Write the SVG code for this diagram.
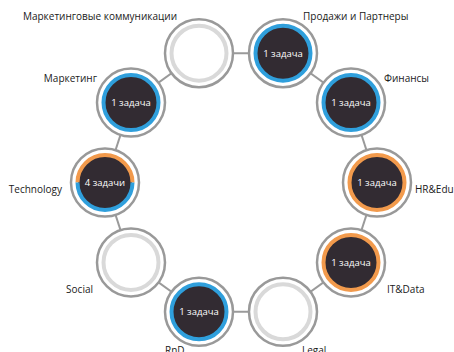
<svg xmlns="http://www.w3.org/2000/svg" width="454" height="352" viewBox="0 0 454 352">
<style>
.conn line{stroke:#9a9a9a;stroke-width:2}
.outer{fill:#fff;stroke:#999;stroke-width:2.5}
.ring-empty{fill:#fff;stroke:#d9d9d9;stroke-width:4}
.ring-blue{fill:none;stroke:#2f9fdc;stroke-width:4}
.ring-orange{fill:none;stroke:#f29a4c;stroke-width:4}
.core{fill:#322b32}
.cnt{font-family:"Open Sans","Liberation Sans",sans-serif;font-size:9.5px;fill:#fff;text-anchor:middle}
.lbl{font-family:"Open Sans","Liberation Sans",sans-serif;font-size:10px;fill:#1a1a1a}
</style>
<rect width="454" height="352" fill="#fff"/>
<g id="connectors" class="conn">
<line x1="199" y1="53.2" x2="283" y2="53.2"/>
<line x1="283" y1="53.2" x2="351" y2="102.6"/>
<line x1="351" y1="102.6" x2="377" y2="182.5"/>
<line x1="377" y1="182.5" x2="351" y2="262.4"/>
<line x1="351" y1="262.4" x2="283" y2="311.8"/>
<line x1="283" y1="311.8" x2="199" y2="311.8"/>
<line x1="199" y1="311.8" x2="131" y2="262.4"/>
<line x1="131" y1="262.4" x2="105" y2="182.5"/>
<line x1="105" y1="182.5" x2="131" y2="102.6"/>
<line x1="131" y1="102.6" x2="199" y2="53.2"/>
</g>
<g id="node-marketing-comm">
<circle class="outer" cx="199" cy="53.2" r="34"/>
<circle class="ring-empty" cx="199" cy="53.2" r="27.5"/>
<text class="lbl" x="177" y="19.5" text-anchor="end">Маркетинговые коммуникации</text>
</g>
<g id="node-sales">
<circle class="outer" cx="283" cy="53.2" r="34"/>
<circle class="core" cx="283" cy="53.2" r="27"/>
<circle class="ring-blue" cx="283" cy="53.2" r="27.5"/>
<text class="cnt" x="283" y="56.5">1 задача</text>
<text class="lbl" x="303" y="19.5">Продажи и Партнеры</text>
</g>
<g id="node-finance">
<circle class="outer" cx="351" cy="102.6" r="34"/>
<circle class="core" cx="351" cy="102.6" r="27"/>
<circle class="ring-blue" cx="351" cy="102.6" r="27.5"/>
<text class="cnt" x="351" y="106">1 задача</text>
<text class="lbl" x="384" y="82">Финансы</text>
</g>
<g id="node-hr">
<circle class="outer" cx="377" cy="182.5" r="34"/>
<circle class="core" cx="377" cy="182.5" r="27"/>
<circle class="ring-orange" cx="377" cy="182.5" r="27.5"/>
<text class="cnt" x="377" y="186">1 задача</text>
<text class="lbl" x="415" y="193">HR&amp;Edu</text>
</g>
<g id="node-it">
<circle class="outer" cx="351" cy="262.4" r="34"/>
<circle class="core" cx="351" cy="262.4" r="27"/>
<circle class="ring-orange" cx="351" cy="262.4" r="27.5"/>
<text class="cnt" x="351" y="266">1 задача</text>
<text class="lbl" x="387" y="293">IT&amp;Data</text>
</g>
<g id="node-legal">
<circle class="outer" cx="283" cy="311.8" r="34"/>
<circle class="ring-empty" cx="283" cy="311.8" r="27.5"/>
<text class="lbl" x="302" y="354">Legal</text>
</g>
<g id="node-rnd">
<circle class="outer" cx="199" cy="311.8" r="34"/>
<circle class="core" cx="199" cy="311.8" r="27"/>
<circle class="ring-blue" cx="199" cy="311.8" r="27.5"/>
<text class="cnt" x="199" y="315">1 задача</text>
<text class="lbl" x="165" y="354">RnD</text>
</g>
<g id="node-social">
<circle class="outer" cx="131" cy="262.4" r="34"/>
<circle class="ring-empty" cx="131" cy="262.4" r="27.5"/>
<text class="lbl" x="93" y="293" text-anchor="end">Social</text>
</g>
<g id="node-technology">
<circle class="outer" cx="105" cy="182.5" r="34"/>
<circle class="core" cx="105" cy="182.5" r="27"/>
<path class="ring-orange" d="M77.5 182.5 A27.5 27.5 0 0 1 132.5 182.5"/>
<path class="ring-blue" d="M132.5 182.5 A27.5 27.5 0 0 1 77.5 182.5"/>
<text class="cnt" x="105" y="186">4 задачи</text>
<text class="lbl" x="62" y="193" text-anchor="end">Technology</text>
</g>
<g id="node-marketing">
<circle class="outer" cx="131" cy="102.6" r="34"/>
<circle class="core" cx="131" cy="102.6" r="27"/>
<circle class="ring-blue" cx="131" cy="102.6" r="27.5"/>
<text class="cnt" x="131" y="106">1 задача</text>
<text class="lbl" x="97" y="82" text-anchor="end">Маркетинг</text>
</g>
</svg>
